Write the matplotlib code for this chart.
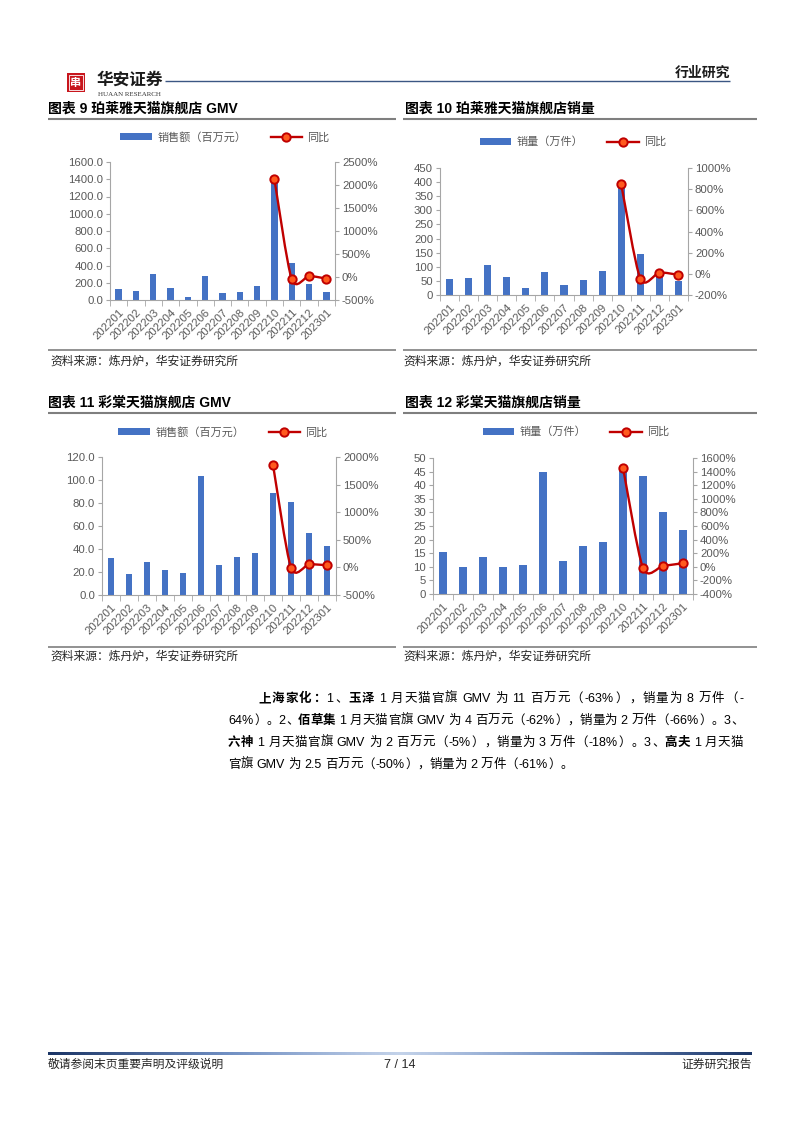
import numpy as np
import matplotlib
matplotlib.use('Agg')
import matplotlib.pyplot as plt
from matplotlib.path import Path
from matplotlib.patches import PathPatch, Rectangle
from matplotlib.lines import Line2D
from matplotlib.ticker import FuncFormatter
from matplotlib.colors import LinearSegmentedColormap

plt.rcParams['font.family'] = ['Liberation Sans', 'Noto Sans CJK SC']
plt.rcParams['axes.unicode_minus'] = False

# 数据
months = ['202201', '202202', '202203', '202204', '202205', '202206', '202207',
          '202208', '202209', '202210', '202211', '202212', '202301']
plj_gmv = [131, 108, 297, 135, 35, 278, 81, 89, 166, 1395, 424, 189, 96]
plj_gmv_yoy = [2125, -50, 20, -35]
plj_qty = [58, 59, 106, 64, 24, 80, 34, 54, 84, 385, 147, 75, 48]
plj_qty_yoy = [846, -46, 12, -10]
ct_gmv = [31.8, 18.2, 28.6, 21.7, 18.8, 103.5, 26.3, 33.3, 36.7, 89.0, 80.7, 54.0, 43.0]
ct_gmv_yoy = [1860, -5, 55, 40]
ct_qty = [15.4, 10.1, 13.7, 9.8, 10.5, 45.0, 12.1, 17.8, 19.1, 45.8, 43.2, 30.3, 23.5]
ct_qty_yoy = [1460, -20, 13, 53]

W, H = 802, 1133
BLUE = '#4472C4'
RED = '#C00000'
ORANGE = '#FF5A1E'
AX = '#A6A6A6'
TXT = '#595959'
TICK_FS = 8.2

fig = plt.figure(figsize=(W / 100, H / 100), dpi=100)
renderer = fig.canvas.get_renderer()


def fx(x):
    return x / W


def fy(y):
    return 1 - y / H


def hline(x0, x1, y, color, lw):
    fig.add_artist(Line2D([fx(x0), fx(x1)], [fy(y), fy(y)], transform=fig.transFigure,
                          color=color, lw=lw, solid_capstyle='butt'))


def smooth_path(xs, ys, k=0.13):
    pts = list(zip(xs, ys))
    n = len(pts)
    verts = [pts[0]]
    codes = [Path.MOVETO]
    for i in range(n - 1):
        p0 = pts[i - 1] if i > 0 else pts[i]
        p1 = pts[i]
        p2 = pts[i + 1]
        p3 = pts[i + 2] if i + 2 < n else pts[i + 1]
        c1 = (p1[0] + (p2[0] - p0[0]) * k, p1[1] + (p2[1] - p0[1]) * k)
        c2 = (p2[0] - (p3[0] - p1[0]) * k, p2[1] - (p3[1] - p1[1]) * k)
        verts += [c1, c2, p2]
        codes += [Path.CURVE4] * 3
    return Path(verts, codes)


def chart(box, vals, yoy, lmax, lstep, lfmt, rmin, rmax, rstep, bar_name, leg_xy):
    l, t, r, b = box
    ax = fig.add_axes([fx(l), fy(b), (r - l) / W, (b - t) / H])
    x = np.arange(len(months))
    bars = ax.bar(x, vals, width=0.37, color=BLUE, zorder=2)
    ax.set_xlim(-0.5, len(months) - 0.5)
    ax.set_ylim(0, lmax)
    ax.set_yticks(np.arange(0, lmax + lstep / 2, lstep))
    ax.yaxis.set_major_formatter(FuncFormatter(lambda v, p: lfmt.format(v)))
    ax.set_xticks(x)
    ax.set_xticklabels(months, rotation=45, ha='right', rotation_mode='anchor')
    ax.set_xticks(np.arange(-0.5, len(months), 1), minor=True)
    ax.tick_params(axis='x', which='major', length=0, pad=5, labelsize=TICK_FS, labelcolor=TXT)
    ax.tick_params(axis='x', which='minor', length=4, color=AX)
    ax.tick_params(axis='y', length=3, color=AX, pad=2, labelsize=TICK_FS, labelcolor=TXT)
    for s in ['top', 'right']:
        ax.spines[s].set_visible(False)
    for s in ['left', 'bottom']:
        ax.spines[s].set_color(AX)
        ax.spines[s].set_linewidth(0.8)

    ax2 = ax.twinx()
    ax2.set_ylim(rmin, rmax)
    ax2.set_yticks(np.arange(rmin, rmax + rstep / 2, rstep))
    ax2.yaxis.set_major_formatter(FuncFormatter(lambda v, p: f'{v:.0f}%'))
    ax2.tick_params(axis='y', length=3, color=AX, pad=2, labelsize=TICK_FS, labelcolor=TXT)
    for s in ['top', 'left', 'bottom']:
        ax2.spines[s].set_visible(False)
    ax2.spines['right'].set_color(AX)
    ax2.spines['right'].set_linewidth(0.8)
    xs = x[-len(yoy):]
    ax2.add_patch(PathPatch(smooth_path(xs, yoy), fill=False, ec=RED, lw=1.7, zorder=3))
    ax2.plot(xs, yoy, 'o', ms=6, mfc=ORANGE, mec=RED, mew=1.4, zorder=4)

    handle = Line2D([], [], color=RED, lw=1.7, marker='o', ms=6, mfc=ORANGE, mec=RED, mew=1.4)
    ax2.legend([bars, handle], [bar_name, '同比'], ncol=2, loc='center',
               bbox_to_anchor=(fx(leg_xy[0]), fy(leg_xy[1])), bbox_transform=fig.transFigure,
               frameon=False, fontsize=8, handlelength=2.8, handleheight=0.5,
               columnspacing=2.2, handletextpad=0.5, labelcolor=TXT)


# 页眉
fig.add_artist(Rectangle((fx(67), fy(92)), 18 / W, 19 / H, transform=fig.transFigure,
                         fc='#C8161D', ec='none'))
fig.add_artist(Rectangle((fx(69), fy(90)), 14 / W, 15 / H, transform=fig.transFigure,
                         fc='none', ec='white', lw=0.6))
fig.text(fx(76), fy(82.5), '串', color='white', fontsize=8, fontweight='bold',
         ha='center', va='center', family='Noto Sans CJK SC')
fig.text(fx(97), fy(80), '华安证券', fontsize=12, fontweight='bold', ha='left', va='center',
         family='Noto Sans CJK SC', color='#1A1A1A')
fig.text(fx(98), fy(94), 'HUAAN RESEARCH', fontsize=5, ha='left', va='center',
         family='Liberation Serif', color='#333333')
hline(165, 730, 80.5, '#3B5683', 1.0)
fig.text(fx(730), fy(72.5), '行业研究', fontsize=10, fontweight='bold', ha='right', va='center',
         family='Noto Sans CJK SC', color='#1A1A1A')

# 图表标题与分隔线
titles = [(48, 109, '图表 9 珀莱雅天猫旗舰店 GMV'), (405, 109, '图表 10 珀莱雅天猫旗舰店销量'),
          (48, 403, '图表 11 彩棠天猫旗舰店 GMV'), (405, 403, '图表 12 彩棠天猫旗舰店销量')]
for tx, ty, s in titles:
    fig.text(fx(tx), fy(ty), s, fontsize=10, fontweight='bold', ha='left', va='center', color='black')
for y in [119, 413]:
    hline(48, 396, y, '#7F7F7F', 1.5)
    hline(403, 757, y, '#7F7F7F', 1.5)
for y in [350, 647]:
    hline(48, 396, y, '#7F7F7F', 1.2)
    hline(403, 757, y, '#7F7F7F', 1.2)
for sx, sy in [(50, 362), (403, 362), (50, 657), (403, 657)]:
    fig.text(fx(sx), fy(sy), '资料来源：炼丹炉，华安证券研究所', fontsize=8.5, ha='left', va='center',
             color='#262626')

# 图表
chart((110, 162, 335, 300), plj_gmv, plj_gmv_yoy, 1600, 200, '{:.1f}', -500, 2500, 500,
      '销售额（百万元）', (225, 137))
chart((440, 168, 688, 295), plj_qty, plj_qty_yoy, 450, 50, '{:.0f}', -200, 1000, 200,
      '销量（万件）', (573, 142))
chart((102, 457, 336, 595), ct_gmv, ct_gmv_yoy, 120, 20, '{:.1f}', -500, 2000, 500,
      '销售额（百万元）', (223, 432))
chart((433, 458, 693, 594), ct_qty, ct_qty_yoy, 50, 5, '{:.0f}', -400, 1600, 200,
      '销量（万件）', (576, 432))

# 正文段落（两端对齐）
FS = 9
EM = FS * 100 / 72
SPACE = 0.28 * EM


def tokenize(parts):
    toks = []
    pend = False
    for s, bold in parts:
        buf = ''
        for c in s:
            if c == ' ':
                if buf:
                    toks.append([buf, bold, False, pend])
                    buf = ''
                    pend = False
                pend = True
            elif ord(c) >= 0x2E80:
                if buf:
                    toks.append([buf, bold, False, pend])
                    buf = ''
                    pend = False
                toks.append([c, bold, True, pend])
                pend = False
            else:
                buf += c
        if buf:
            toks.append([buf, bold, False, pend])
            pend = False
    return toks


def para_line(x0, x1, y, parts, justify=True):
    toks = tokenize(parts)
    widths = []
    for s, bold, cjk, sp in toks:
        if cjk:
            widths.append(EM)
        else:
            t = fig.text(0, 0, s, fontsize=FS, fontweight='bold' if bold else 'normal')
            widths.append(t.get_window_extent(renderer=renderer).width)
            t.remove()
    natural = sum(widths) + SPACE * sum(1 for tk in toks if tk[3])
    gap = (x1 - x0 - natural) / (len(toks) - 1) if justify else 0.0
    xc = x0
    for (s, bold, cjk, sp), w in zip(toks, widths):
        if sp:
            xc += SPACE
        kw = dict(fontsize=FS, fontweight='bold' if bold else 'normal', va='baseline', color='black')
        if cjk:
            if s == '（':
                fig.text(fx(xc + EM * 0.98), fy(y), s, ha='right', **kw)
            elif s in '），。、：':
                fig.text(fx(xc + EM * 0.06), fy(y), s, ha='left', **kw)
            else:
                fig.text(fx(xc + EM / 2), fy(y), s, ha='center', **kw)
        else:
            fig.text(fx(xc), fy(y), s, ha='left', **kw)
        xc += w + gap


para_line(258, 743, 702, [('上海家化：', True), ('1、', False), ('玉泽', True),
                          (' 1 月天猫官旗 GMV 为 11 百万元（-63%），销量为 8 万件（-', False)])
para_line(228, 743, 724, [('64%）。2、', False), ('佰草集', True),
                          (' 1 月天猫官旗 GMV 为 4 百万元（-62%），销量为 2 万件（-66%）。3、', False)])
para_line(228, 743, 746, [('六神', True), (' 1 月天猫官旗 GMV 为 2 百万元（-5%），销量为 3 万件（-18%）。3、', False),
                          ('高夫', True), (' 1 月天猫', False)])
para_line(228, 743, 768, [('官旗 GMV 为 2.5 百万元（-50%），销量为 2 万件（-61%）。', False)], justify=False)

# 页脚
gax = fig.add_axes([fx(48), fy(1055), (752 - 48) / W, 3 / H])
cmap = LinearSegmentedColormap.from_list('foot', ['#1B3566', '#6F8EC2', '#C4D3EA', '#6F8EC2', '#1B3566'])
gax.imshow(np.linspace(0, 1, 400)[None, :], aspect='auto', cmap=cmap)
gax.axis('off')
fig.text(fx(48), fy(1065), '敬请参阅末页重要声明及评级说明', fontsize=8.5, ha='left', va='center', color='#262626')
fig.text(fx(400), fy(1065), '7 / 14', fontsize=9, ha='center', va='center', color='#262626')
fig.text(fx(752), fy(1065), '证券研究报告', fontsize=8.5, ha='right', va='center', color='#262626')

fig.savefig('out.png', dpi=100, facecolor='white')
